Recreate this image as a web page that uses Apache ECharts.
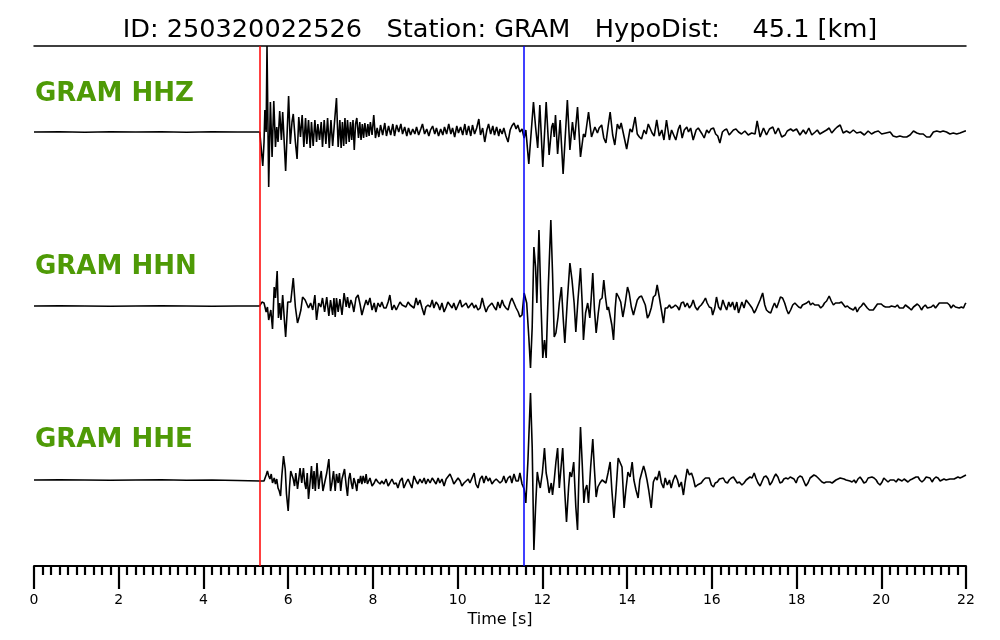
<!DOCTYPE html>
<html>
<head>
<meta charset="utf-8">
<script src="https://cdn.jsdelivr.net/npm/echarts@6/dist/echarts.min.js"></script>
<style>html,body{margin:0;padding:0;background:#fff}#c{width:1000px;height:640px}</style>
</head>
<body>
<div id="c"></div>
<script>
// ---- data: [time (s), amplitude (relative units)] ----
const titleText = 'ID: 250320022526   Station: GRAM   HypoDist:    45.1 [km]';
const channels = ['GRAM HHZ', 'GRAM HHN', 'GRAM HHE'];
const pickP = 5.33;   // red marker
const pickS = 11.55;  // blue marker
const xTicks = [0, 2, 4, 6, 8, 10, 12, 14, 16, 18, 20, 22];

const hhzTrace = [[0,0],[0.6,0.3],[1.2,-0.2],[1.8,0.2],[2.4,0],[3.0,0.3],[3.6,-0.2],[4.2,0.2],[4.8,0],[5.33,0],
[5.37,0],[5.40,-34],[5.43,-10],[5.45,22],[5.48,0],[5.50,86],[5.54,-55],[5.58,30],[5.62,-25],[5.66,31],[5.70,-15],[5.73,5],[5.76,-10],[5.80,21],[5.84,-8],[5.87,20],[5.94,-39],[6.01,36],[6.05,-12],[6.09,10],[6.12,18],[6.17,-10],[6.21,-27],[6.25,15],[6.29,-5],[6.33,17],[6.37,-15],[6.41,14],[6.44,-12],[6.48,12],[6.52,-16],[6.55,10],[6.59,-14],[6.63,12],[6.67,-10],[6.70,8],[6.74,-8],[6.78,10],[6.81,-15],[6.85,12],[6.89,-12],[6.93,14],[6.97,-16],[7.01,12],[7.05,-14],[7.09,8],[7.14,34],[7.18,-15],[7.22,12],[7.25,-16],[7.28,10],[7.31,-14],[7.34,14],[7.37,-12],[7.40,12],[7.44,-10],[7.47,10],[7.50,-8],[7.53,12],[7.56,-18],[7.59,8],[7.62,14],[7.66,-6],[7.69,10],[7.72,-8],[7.75,8],[7.78,-6],[7.81,9],[7.85,-5],[7.88,8],[7.91,-4],[7.94,10],[7.98,-3],[8.02,17],[8.06,-6],[8.10,4],[8.14,-5],[8.18,7],[8.23,-3],[8.28,9],[8.32,-4],[8.37,6],[8.42,-3],[8.47,8],[8.51,-4],[8.56,7],[8.61,0],[8.66,8],[8.70,-2],[8.75,5],[8.80,-4],
[8.84,4],[8.89,-3],[8.94,3],[8.99,-2],[9.03,5],[9.08,-3],[9.13,3],[9.17,8],[9.22,-2],[9.27,3],[9.32,-4],[9.36,2],[9.41,6],[9.46,-2],[9.50,4],[9.55,-4],[9.60,3],[9.65,-3],[9.69,5],[9.74,-2],[9.79,8],[9.84,-2],[9.88,4],[9.93,-5],[9.98,6],[10.02,-1],[10.07,5],[10.12,-3],[10.17,8],[10.21,-3],[10.26,6],[10.31,-4],[10.35,7],[10.40,-2],[10.45,4],[10.50,13],[10.54,-3],[10.59,4],[10.64,-10],[10.69,2],[10.73,8],[10.78,-2],[10.83,6],[10.87,-3],[10.92,5],[10.97,-4],
[11.00,3],[11.05,-2],[11.09,4],[11.14,-4],[11.19,-10],[11.24,2],[11.28,6],[11.33,9],[11.38,3],[11.42,7],[11.47,0],[11.52,3],[11.57,-6],[11.61,2],[11.68,-32],[11.72,-30],[11.79,30],[11.84,5],[11.89,-16],[11.94,27],[12.01,-35],[12.09,30],[12.16,-23],[12.22,5],[12.25,9],[12.28,-5],[12.31,17],[12.36,-22],[12.42,12],[12.49,-42],[12.59,32],[12.65,-18],[12.71,10],[12.76,-8],[12.83,25],[12.90,-25],[12.97,-2],[13.01,-5],[13.09,20],[13.16,-5],[13.24,5],[13.30,-1],[13.34,4],[13.40,7],[13.45,-6],[13.50,-11],[13.55,5],[13.60,20],[13.66,-3],[13.71,-13],[13.77,8],[13.82,3],[13.86,9],[13.93,-5],[13.99,-17],[14.07,3],[14.12,0],[14.19,15],[14.24,-2],[14.29,-5],[14.34,-7],[14.40,2],[14.45,-2],[14.50,8],[14.54,9],[14.59,-1],[14.64,-4],[14.70,12],[14.76,-4],[14.82,2],[14.87,-8],[14.93,12],[15.00,-8],[15.05,2],[15.09,4],[15.15,-8],[15.21,3],[15.25,7],[15.30,-6],[15.35,2],[15.41,5],[15.45,0],[15.50,4],[15.56,-8],[15.63,2],[15.68,4],[15.72,6],[15.77,-2],[15.82,-6],[15.88,2],[15.93,-1],[15.98,3],[16.04,4],[16.09,-2],[16.14,-4],[16.19,-11],[16.25,0],[16.30,2],[16.35,3],[16.41,-3],[16.45,-5],[16.51,2],[16.57,3],[16.63,0],
[16.70,-2],[16.78,1],[16.86,-3],[16.94,-1],[17.02,-2],[17.07,11],[17.14,-5],[17.22,4],[17.29,-3],[17.36,3],[17.44,5],[17.50,-2],[17.57,4],[17.65,-5],[17.73,-3],[17.78,1],[17.86,3],[17.92,1],[18.00,3],[18.08,-3],[18.16,2],[18.22,-2],[18.29,4],[18.36,-3],[18.44,0],[18.49,2],[18.55,-2],[18.63,0],[18.71,2],[18.77,4],[18.83,-1],[18.91,3],[18.96,5],[19.03,7],[19.10,-1],[19.18,1],[19.26,-1],[19.34,2],[19.42,-1],[19.51,0],[19.60,-3],[19.69,1],[19.77,-2],[19.85,0],[19.93,1],[20.01,-2],[20.11,-1],[20.21,0],[20.28,-4],[20.36,-5],[20.44,-4],[20.52,-5],[20.60,-5],[20.68,-3],[20.76,1],[20.84,-1],[20.91,-2],[20.99,-2],[21.07,-5],[21.15,-5],[21.23,0],[21.31,1],[21.39,0],[21.46,1],[21.54,0],[21.62,-2],[21.70,-1],[21.78,-2],[21.86,-1],[21.98,1],[22.00,1]];

const hhnTrace = [[0,0],[0.6,0.2],[1.2,0],[1.8,-0.2],[2.4,0],[3.0,0.2],[3.6,0],[4.2,-0.2],[4.8,0],[5.33,0],
[5.38,4],[5.43,3],[5.48,-6],[5.51,-1],[5.54,-14],[5.59,-4],[5.63,-23],[5.67,19],[5.70,8],[5.74,35],[5.77,-12],[5.80,3],[5.83,-14],[5.87,11],[5.91,-14],[5.94,-31],[5.99,4],[6.03,3],[6.06,4],[6.12,28],[6.17,-1],[6.22,-17],[6.26,-11],[6.30,-4],[6.34,9],[6.40,6],[6.44,4],[6.48,-2],[6.53,3],[6.58,-4],[6.63,11],[6.67,-14],[6.72,3],[6.77,-1],[6.81,8],[6.86,-6],[6.91,9],[6.96,-10],[7.00,6],[7.05,-9],[7.08,8],[7.11,-11],[7.14,8],[7.18,-6],[7.22,7],[7.27,-9],[7.32,13],[7.37,-1],[7.40,9],[7.44,-2],[7.48,6],[7.52,1],[7.55,-6],[7.60,8],[7.65,11],[7.70,1],[7.74,-9],[7.79,-1],[7.84,6],[7.88,1],[7.93,8],[7.98,-4],[8.03,3],[8.07,-6],[8.12,3],[8.17,-1],[8.21,4],[8.26,-2],[8.31,-2],[8.36,4],[8.40,11],[8.45,-4],[8.50,1],[8.55,-4],[8.59,-6],[8.64,4],[8.69,1],[8.73,3],[8.78,-1],[8.83,4],[8.88,1],[8.92,3],[8.97,-2],[9.02,8],[9.06,1],[9.11,6],[9.16,-2],[9.21,-9],[9.25,-1],[9.30,1],[9.35,-1],[9.40,6],[9.44,-2],[9.49,4],[9.54,1],[9.58,-4],[9.63,3],[9.68,-6],[9.73,-1],[9.77,4],[9.82,1],[9.87,-2],[9.91,3],[9.96,-4],[10.01,1],[10.06,6],[10.10,-1],[10.15,1],[10.20,3],[10.25,-2],[10.29,-1],[10.34,3],[10.39,-2],[10.43,1],[10.48,-4],[10.53,-2],[10.58,8],[10.62,1],[10.67,-6],[10.72,-1],[10.76,-2],[10.81,3],[10.86,-1],[10.91,-4],[10.95,4],[11.00,-2],[11.05,6],[11.09,1],[11.14,-2],[11.19,-4],[11.24,4],[11.28,8],[11.33,3],[11.38,-2],[11.43,-6],[11.47,-11],[11.52,-9],[11.57,13],
[11.63,3],[11.68,-31],[11.72,-62],[11.76,-21],[11.80,59],[11.84,39],[11.87,3],[11.92,76],[11.97,-1],[12.01,-52],[12.05,-34],[12.09,-52],[12.14,19],[12.20,86],[12.24,33],[12.28,-31],[12.32,-27],[12.37,-11],[12.40,3],[12.45,19],[12.49,-11],[12.53,-37],[12.59,6],[12.65,43],[12.70,26],[12.75,3],[12.79,-26],[12.84,6],[12.90,38],[12.94,3],[12.97,-34],[13.02,-7],[13.07,3],[13.12,-12],[13.15,6],[13.19,33],[13.23,-4],[13.27,-27],[13.32,-7],[13.36,6],[13.41,8],[13.45,26],[13.49,9],[13.53,-4],[13.56,-1],[13.60,1],[13.64,-19],[13.68,-34],[13.72,-2],[13.75,13],[13.80,9],[13.85,4],[13.90,-11],[13.95,1],[14.01,19],[14.05,13],[14.10,-1],[14.15,-9],[14.19,-7],[14.24,6],[14.29,9],[14.34,10],[14.38,11],[14.43,1],[14.48,-12],[14.52,-9],[14.57,-2],[14.62,9],[14.67,11],[14.71,21],[14.76,9],[14.81,-4],[14.86,-17],[14.90,-2],[14.95,-2],[15.00,1],[15.04,-2],[15.09,-1],[15.14,1],[15.19,-1],[15.23,-4],[15.28,3],[15.33,4],[15.37,-1],[15.42,3],[15.47,-2],[15.52,1],[15.56,6],[15.61,-1],[15.66,-4],[15.70,-1],[15.75,1],[15.80,4],[15.85,8],[15.89,3],[15.94,-1],[15.99,-2],[16.02,-9],[16.07,-2],[16.11,9],[16.16,-1],[16.21,-4],[16.26,6],[16.30,1],[16.35,-4],[16.40,4],[16.44,-1],[16.49,4],[16.54,-4],[16.59,4],[16.63,-7],
[16.71,4],[16.76,-2],[16.81,6],[16.85,4],[16.90,1],[16.95,-2],[17.00,-7],[17.04,-4],[17.09,1],[17.14,6],[17.20,13],[17.25,1],[17.29,-4],[17.34,-6],[17.39,-7],[17.44,-1],[17.48,3],[17.53,-2],[17.58,4],[17.62,9],[17.67,8],[17.72,3],[17.77,-4],[17.81,-8],[17.86,-4],[17.91,1],[17.96,3],[18.00,5],[18.05,-1],[18.10,-2],[18.14,1],[18.19,2],[18.24,3],[18.29,5],[18.33,1],[18.38,3],[18.43,1],[18.47,2],[18.52,1],[18.57,-2],[18.62,0],[18.66,3],[18.71,5],[18.77,10],[18.82,5],[18.87,1],[18.92,3],[18.96,1],[19.01,3],[19.06,4],[19.10,3],[19.15,-1],[19.20,0],[19.25,-2],[19.29,-1],[19.34,-4],[19.39,-1],[19.43,-6],[19.48,-2],[19.53,0],[19.58,3],[19.62,1],[19.67,-2],[19.72,-4],[19.76,-5],[19.81,-4],[19.86,-1],[19.91,2],[19.95,3],[20.00,2],[20.05,0],[20.10,-1],[20.14,-2],[20.19,-1],[20.24,0],[20.28,-2],[20.33,-1],[20.38,1],[20.43,-2],[20.47,-4],[20.52,-2],[20.57,1],[20.61,-1],[20.66,-2],[20.71,-4],[20.76,-1],[20.80,1],[20.85,2],[20.90,0],[20.95,-4],[20.99,-1],[21.04,1],[21.09,-2],[21.13,-3],[21.18,-1],[21.23,1],[21.28,-2],[21.32,-1],[21.37,3],[21.42,3],[21.46,4],[21.51,3],[21.56,3],[21.61,1],[21.65,-2],[21.70,1],[21.75,-1],[21.79,1],[21.84,-2],[21.89,-1],[21.94,-2],[21.98,2],[22.00,3]];

const hheTrace = [[0,0],[0.6,0.2],[1.2,0],[1.8,-0.3],[2.4,0],[3.0,0.2],[3.6,-0.3],[4.2,0],[4.8,-0.5],[5.33,-1],
[5.38,-1],[5.43,-1],[5.48,5],[5.51,9],[5.54,4],[5.57,1],[5.60,6],[5.63,-3],[5.67,2],[5.70,-4],[5.73,1],[5.76,-8],[5.79,-11],[5.82,-16],[5.85,4],[5.89,24],[5.93,11],[5.96,-14],[6.00,-31],[6.03,-8],[6.06,9],[6.09,9],[6.12,1],[6.15,-6],[6.18,7],[6.22,-9],[6.25,1],[6.28,12],[6.32,-3],[6.36,12],[6.39,-3],[6.42,-9],[6.45,7],[6.48,-19],[6.52,-1],[6.55,14],[6.58,-9],[6.61,9],[6.64,-11],[6.68,17],[6.72,-9],[6.75,2],[6.78,9],[6.82,-11],[6.86,-3],[6.91,7],[6.96,21],[7.00,-11],[7.03,-4],[7.07,9],[7.11,-11],[7.14,6],[7.18,-3],[7.21,7],[7.24,-11],[7.27,1],[7.30,6],[7.33,11],[7.37,-6],[7.40,-16],[7.43,1],[7.46,7],[7.49,-3],[7.52,-9],[7.55,2],[7.59,-4],[7.62,-11],[7.65,1],[7.68,-3],[7.71,4],[7.74,-4],[7.77,4],[7.81,-3],[7.84,6],[7.87,-4],[7.90,-3],[7.93,2],[7.98,-6],[8.03,-3],[8.07,1],[8.12,-2],[8.17,-4],[8.21,-1],[8.26,-4],[8.31,1],[8.36,-6],[8.40,-3],[8.45,1],[8.50,-4],[8.55,-3],[8.59,-8],[8.64,-1],[8.69,2],[8.73,-8],[8.78,-3],[8.83,1],[8.88,-4],[8.92,-8],[8.97,4],[9.02,-1],[9.06,-4],[9.11,1],[9.16,-3],[9.21,2],[9.25,-4],[9.30,1],[9.35,-3],[9.40,2],[9.44,1],[9.49,-4],[9.54,2],[9.58,-3],[9.63,1],[9.68,-6],[9.73,1],[9.77,-1],[9.82,6],[9.87,1],[9.91,-4],[9.96,-1],[10.01,2],[10.06,-1],[10.10,-6],[10.15,-3],[10.20,-1],[10.25,1],[10.29,-3],[10.34,2],[10.39,7],[10.43,-4],[10.48,-8],[10.53,1],[10.58,4],[10.62,-3],[10.67,4],[10.72,-1],[10.76,2],[10.81,-4],[10.86,-1],[10.91,1],[10.95,2],[11.00,-3],[11.05,-1],[11.09,4],[11.14,-3],[11.19,2],[11.24,4],[11.28,-3],[11.33,6],[11.38,-1],[11.43,-1],[11.47,7],[11.52,-4],[11.57,-9],[11.61,-23],
[11.66,20],[11.72,87],[11.76,33],[11.80,-70],[11.84,-27],[11.88,8],[11.91,0],[11.95,-8],[12.00,7],[12.05,32],[12.09,7],[12.12,0],[12.16,-13],[12.21,-3],[12.24,-15],[12.28,0],[12.32,18],[12.36,32],[12.40,-8],[12.44,12],[12.48,32],[12.53,-13],[12.57,-42],[12.62,-7],[12.65,8],[12.69,3],[12.74,18],[12.79,-27],[12.83,-50],[12.86,0],[12.90,53],[12.94,17],[12.98,-23],[13.01,-10],[13.05,-5],[13.09,-23],[13.14,13],[13.19,41],[13.23,10],[13.27,-17],[13.31,-7],[13.36,-3],[13.41,0],[13.45,-1],[13.50,-3],[13.55,7],[13.60,18],[13.64,-10],[13.69,-38],[13.74,-10],[13.79,22],[13.83,23],[13.88,13],[13.93,-28],[13.97,-10],[14.02,8],[14.07,3],[14.12,18],[14.16,0],[14.21,-10],[14.26,-18],[14.30,0],[14.35,8],[14.39,14],[14.43,8],[14.47,0],[14.51,-10],[14.57,-28],[14.62,-2],[14.67,3],[14.71,0],[14.76,9],[14.81,-3],[14.86,-8],[14.90,2],[14.95,-5],[15.00,0],[15.04,-8],[15.09,0],[15.14,5],[15.19,0],[15.23,-7],[15.28,-2],[15.33,-15],[15.37,-2],[15.42,11],[15.47,5],[15.52,7],[15.56,2],[15.61,-7],[15.66,-5],[15.70,-7],[15.75,-3],[15.80,0],[15.85,2],[15.89,4],[15.94,2],[15.99,-5],[16.04,-7],[16.08,-3],[16.13,-2],[16.18,1],[16.22,1],[16.27,2],[16.32,-2],[16.37,-3],[16.41,0],[16.46,2],[16.51,3],[16.55,5],[16.60,-3],[16.65,-2],
[16.71,-5],[16.76,-3],[16.81,0],[16.85,-2],[16.90,3],[16.95,2],[17.00,7],[17.04,2],[17.09,-3],[17.14,-6],[17.18,-2],[17.23,3],[17.28,4],[17.33,1],[17.37,-5],[17.42,-2],[17.47,3],[17.51,6],[17.56,3],[17.61,-3],[17.66,-2],[17.70,1],[17.75,2],[17.80,1],[17.85,3],[17.89,5],[17.94,1],[17.99,-3],[18.03,2],[18.08,4],[18.13,3],[18.18,-2],[18.22,-6],[18.27,-3],[18.32,2],[18.36,4],[18.41,5],[18.46,4],[18.51,2],[18.55,1],[18.60,-2],[18.65,-3],[18.70,-2],[18.74,0],[18.79,-2],[18.84,-3],[18.88,-2],[18.93,0],[18.98,1],[19.03,2],[19.07,3],[19.12,1],[19.17,0],[19.21,-2],[19.26,-1],[19.31,-2],[19.36,0],[19.40,-3],[19.45,1],[19.50,3],[19.55,0],[19.59,-3],[19.64,-2],[19.69,2],[19.73,3],[19.78,3],[19.83,2],[19.88,0],[19.92,-3],[19.97,-5],[20.02,-2],[20.06,2],[20.11,0],[20.16,-2],[20.21,0],[20.25,1],[20.30,0],[20.35,-2],[20.40,1],[20.44,0],[20.49,-1],[20.54,1],[20.58,0],[20.63,-2],[20.68,0],[20.73,1],[20.77,2],[20.82,3],[20.87,3],[20.91,0],[20.96,-2],[21.01,0],[21.06,3],[21.10,4],[21.15,2],[21.20,-2],[21.24,1],[21.29,3],[21.34,2],[21.39,-1],[21.43,0],[21.48,1],[21.53,0],[21.57,1],[21.62,1],[21.67,1],[21.72,1],[21.76,2],[21.81,3],[21.86,2],[21.91,3],[21.95,3],[22.00,5]];

// ---- chart ----
const traces = [hhzTrace, hhnTrace, hheTrace];
const band = 174;              // vertical spacing between traces (amplitude units)
const offsets = [band, 0, -band];
const FONT = 'DejaVu Sans';

const chart = echarts.init(document.getElementById('c'), null, {renderer: 'canvas'});

const series = traces.map((tr, i) => ({
  type: 'line',
  data: tr.map(p => [p[0], p[1] + offsets[i]]),
  showSymbol: false,
  symbol: 'none',
  clip: false,
  silent: true,
  lineStyle: {color: '#000', width: 1.6},
  z: 3
}));

series.push({
  type: 'line', data: [], silent: true,
  markLine: {
    silent: true, symbol: ['none', 'none'], label: {show: false}, animation: false,
    data: [
      {xAxis: pickP, lineStyle: {color: '#ff0000', width: 1.5, type: 'solid'}},
      {xAxis: pickS, lineStyle: {color: '#0000ff', width: 1.5, type: 'solid'}}
    ]
  },
  z: 2
});

const chTitles = channels.map((name, i) => ({
  text: name,
  left: 30,
  top: 76 + i * 173.3,
  textStyle: {color: '#4e9a06', fontSize: 26, fontWeight: 'bold', fontFamily: FONT}
}));

chart.setOption({
  animation: false,
  backgroundColor: '#fff',
  title: [{
    text: titleText, left: 'center', top: 12,
    textStyle: {color: '#000', fontSize: 25.6, fontWeight: 'normal', fontFamily: FONT}
  }].concat(chTitles),
  grid: {left: 34, right: 34, top: 46, bottom: 74, containLabel: false},
  xAxis: [{
    type: 'value', min: xTicks[0], max: xTicks[xTicks.length - 1], interval: 2,
    position: 'bottom',
    axisLine: {show: true, onZero: false, lineStyle: {color: '#000', width: 2}},
    axisTick: {show: true, length: 23, lineStyle: {color: '#000', width: 2.2}},
    minorTick: {show: true, splitNumber: 10, length: 9, lineStyle: {color: '#000', width: 2.2}},
    splitLine: {show: false},
    minorSplitLine: {show: false},
    axisLabel: {color: '#000', fontSize: 14, fontFamily: FONT, margin: 27,
      formatter: v => xTicks.includes(v) ? String(v) : ''},
    name: 'Time [s]', nameLocation: 'middle', nameGap: 43,
    nameTextStyle: {color: '#000', fontSize: 16, fontFamily: FONT}
  }, {
    type: 'value', min: 0, max: 22, position: 'top',
    axisLine: {show: true, onZero: false, lineStyle: {color: '#000', width: 1.5}},
    axisTick: {show: false}, axisLabel: {show: false}, splitLine: {show: false}
  }],
  yAxis: {type: 'value', min: -260, max: 260, show: false},
  series: series
});
</script>
</body>
</html>
